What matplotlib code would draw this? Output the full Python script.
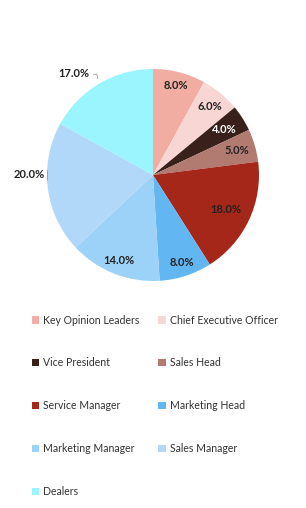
import matplotlib.pyplot as plt
import matplotlib.patches as mpatches
import numpy as np

plt.rcParams['font.family'] = ['Lato', 'DejaVu Sans']

labels = ['Key Opinion Leaders', 'Chief Executive Officer', 'Vice President', 'Sales Head',
          'Service Manager', 'Marketing Head', 'Marketing Manager', 'Sales Manager', 'Dealers']
shares = [8.0, 6.0, 4.0, 5.0, 18.0, 8.0, 14.0, 20.0, 17.0]
colors = ['#F1ADA2', '#F8D6D4', '#3A201B', '#B27B72', '#A5271A',
          '#62B7F2', '#9CD1F8', '#B1D7F9', '#9BF5FE']

# label placement (radius as fraction of pie radius), text colour
label_r = [0.87, 0.84, 0.80, 0.82, 0.76, 0.87, 0.87, 1.17, 1.15]
label_c = ['#222222'] * 9
label_c[2] = 'white'

fig = plt.figure(figsize=(3.06, 5.08), dpi=100)
ax = fig.add_axes([47 / 306, 1 - 281 / 508, 212 / 306, 212 / 508])
wedges, _ = ax.pie(shares, colors=colors, startangle=90, counterclock=False,
                   wedgeprops=dict(edgecolor='none'), radius=1.0)
ax.set_xlim(-1, 1)
ax.set_ylim(-1, 1)
ax.set_aspect('equal')

total = sum(shares)
cum = 0
for i, v in enumerate(shares):
    mid = 90 - (cum + v / 2) / total * 360
    cum += v
    a = np.deg2rad(mid)
    x, y = label_r[i] * np.cos(a), label_r[i] * np.sin(a)
    if i == 8:
        x, y = -0.75, 0.96
        ax.plot([-0.56, -0.53, -0.52], [0.95, 0.95, 0.91], color='#999999', lw=0.6)
    if i == 7:
        x, y = -1.17, 0.0
        ax.plot([-1.0, -1.0], [-0.05, 0.05], color='#999999', lw=0.6)
    ax.text(x, y, f'{v:.1f}%', ha='center', va='center', fontsize=8,
            fontweight='bold', color=label_c[i])

# legend in row order (two columns)
handles = [mpatches.Patch(facecolor=c, edgecolor='none', label=l) for c, l in zip(colors, labels)]
order = [0, 2, 4, 6, 8, 1, 3, 5, 7]
fig.legend([handles[k] for k in order], [labels[k] for k in order], ncol=2,
           loc='upper left', bbox_to_anchor=(22 / 306, 1 - 305 / 508), frameon=False,
           fontsize=7.6, handlelength=0.7, handleheight=0.7, handletextpad=0.4,
           labelspacing=3.02, columnspacing=1.8, labelcolor='#333333')

fig.savefig('out.png', dpi=100)
